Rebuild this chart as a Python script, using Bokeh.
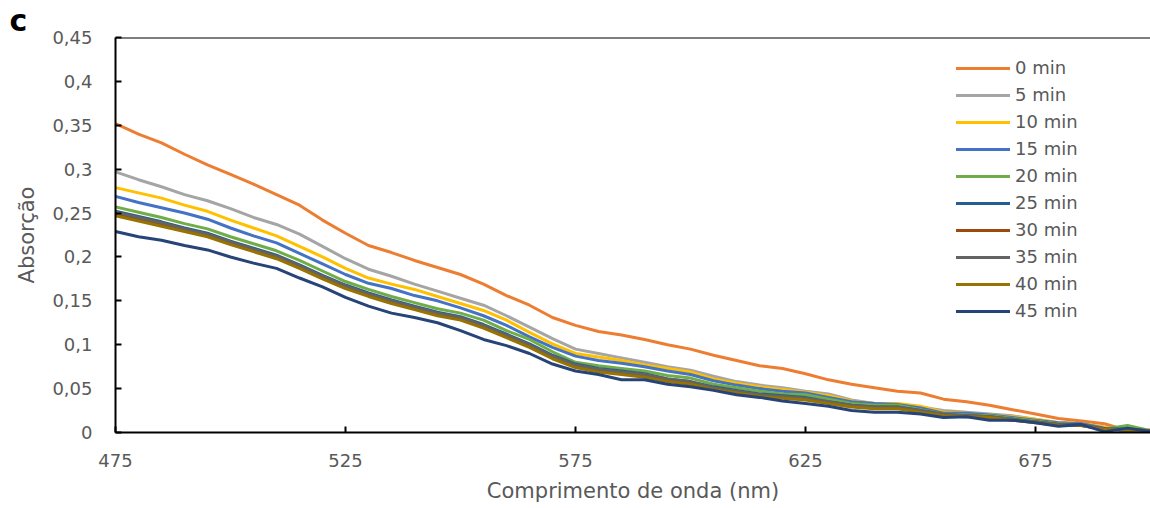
from bokeh.plotting import figure
from bokeh.models import Range1d, FixedTicker, Span, Legend, LegendItem
from bokeh.embed import file_html
from bokeh.resources import INLINE

# ---------------- data ----------------
wavelength = [475, 480, 485, 490, 495, 500, 505, 510, 515, 520,
              525, 530, 535, 540, 545, 550, 555, 560, 565, 570,
              575, 580, 585, 590, 595, 600, 605, 610, 615, 620,
              625, 630, 635, 640, 645, 650, 655, 660, 665, 670,
              675, 680, 685, 690, 695, 700]

abs_0min = [0.352, 0.340, 0.330, 0.317, 0.305, 0.294, 0.283, 0.271, 0.259, 0.242,
            0.227, 0.213, 0.205, 0.196, 0.188, 0.180, 0.169, 0.156, 0.145, 0.131,
            0.122, 0.115, 0.111, 0.106, 0.100, 0.095, 0.088, 0.082, 0.076, 0.073,
            0.067, 0.060, 0.055, 0.051, 0.047, 0.045, 0.038, 0.035, 0.031, 0.026,
            0.021, 0.016, 0.013, 0.010, 0.002, 0.003]
abs_5min = [0.297, 0.288, 0.280, 0.271, 0.264, 0.255, 0.245, 0.237, 0.226, 0.212,
            0.198, 0.186, 0.178, 0.169, 0.161, 0.153, 0.145, 0.133, 0.120, 0.107,
            0.095, 0.090, 0.085, 0.080, 0.075, 0.071, 0.064, 0.058, 0.054, 0.051,
            0.047, 0.044, 0.037, 0.033, 0.032, 0.029, 0.025, 0.023, 0.021, 0.019,
            0.015, 0.011, 0.010, 0.006, 0.003, 0.002]
abs_10min = [0.279, 0.273, 0.267, 0.259, 0.252, 0.242, 0.233, 0.224, 0.212, 0.200,
             0.187, 0.176, 0.169, 0.163, 0.155, 0.147, 0.139, 0.128, 0.114, 0.101,
             0.090, 0.086, 0.082, 0.077, 0.073, 0.069, 0.061, 0.056, 0.052, 0.049,
             0.046, 0.042, 0.036, 0.033, 0.033, 0.030, 0.023, 0.022, 0.020, 0.018,
             0.015, 0.011, 0.010, 0.006, 0.002, 0.002]
abs_15min = [0.269, 0.262, 0.256, 0.250, 0.243, 0.233, 0.224, 0.216, 0.204, 0.192,
             0.180, 0.170, 0.164, 0.156, 0.150, 0.142, 0.133, 0.122, 0.109, 0.097,
             0.087, 0.082, 0.079, 0.075, 0.070, 0.066, 0.059, 0.054, 0.050, 0.047,
             0.045, 0.040, 0.035, 0.033, 0.032, 0.028, 0.022, 0.022, 0.020, 0.017,
             0.014, 0.011, 0.010, 0.005, 0.001, 0.002]
abs_20min = [0.257, 0.251, 0.245, 0.238, 0.232, 0.223, 0.215, 0.207, 0.196, 0.184,
             0.172, 0.163, 0.155, 0.148, 0.141, 0.136, 0.128, 0.116, 0.106, 0.092,
             0.080, 0.076, 0.073, 0.070, 0.065, 0.062, 0.055, 0.051, 0.047, 0.044,
             0.043, 0.038, 0.033, 0.031, 0.031, 0.026, 0.021, 0.020, 0.019, 0.016,
             0.013, 0.010, 0.009, 0.004, 0.008, 0.002]
abs_25min = [0.252, 0.246, 0.240, 0.233, 0.227, 0.218, 0.210, 0.202, 0.191, 0.179,
             0.168, 0.159, 0.151, 0.144, 0.137, 0.132, 0.123, 0.112, 0.101, 0.088,
             0.078, 0.073, 0.070, 0.067, 0.061, 0.058, 0.052, 0.048, 0.044, 0.042,
             0.040, 0.035, 0.031, 0.029, 0.029, 0.025, 0.020, 0.019, 0.018, 0.015,
             0.012, 0.009, 0.009, 0.004, 0.004, 0.002]
abs_30min = [0.249, 0.243, 0.237, 0.231, 0.225, 0.216, 0.208, 0.200, 0.189, 0.177,
             0.166, 0.157, 0.149, 0.142, 0.135, 0.130, 0.121, 0.110, 0.099, 0.086,
             0.076, 0.071, 0.068, 0.065, 0.060, 0.057, 0.050, 0.046, 0.042, 0.040,
             0.038, 0.034, 0.030, 0.028, 0.028, 0.024, 0.020, 0.019, 0.018, 0.014,
             0.012, 0.009, 0.008, 0.004, 0.003, 0.002]
abs_35min = [0.251, 0.245, 0.239, 0.232, 0.226, 0.217, 0.209, 0.201, 0.190, 0.178,
             0.167, 0.158, 0.150, 0.143, 0.136, 0.131, 0.122, 0.111, 0.100, 0.087,
             0.077, 0.072, 0.069, 0.066, 0.061, 0.058, 0.051, 0.047, 0.043, 0.041,
             0.039, 0.035, 0.031, 0.029, 0.029, 0.025, 0.021, 0.019, 0.018, 0.015,
             0.012, 0.009, 0.008, 0.004, 0.003, 0.002]
abs_40min = [0.247, 0.241, 0.235, 0.229, 0.223, 0.214, 0.206, 0.198, 0.187, 0.175,
             0.164, 0.155, 0.147, 0.140, 0.133, 0.128, 0.119, 0.108, 0.097, 0.084,
             0.074, 0.069, 0.066, 0.063, 0.058, 0.055, 0.049, 0.045, 0.041, 0.039,
             0.037, 0.033, 0.029, 0.027, 0.027, 0.023, 0.019, 0.018, 0.017, 0.014,
             0.011, 0.008, 0.008, 0.003, 0.003, 0.001]
abs_45min = [0.229, 0.223, 0.219, 0.213, 0.208, 0.200, 0.193, 0.187, 0.176, 0.166,
             0.154, 0.144, 0.136, 0.131, 0.125, 0.116, 0.106, 0.099, 0.090, 0.078,
             0.070, 0.066, 0.060, 0.060, 0.055, 0.052, 0.048, 0.043, 0.040, 0.036,
             0.033, 0.030, 0.025, 0.023, 0.023, 0.021, 0.017, 0.018, 0.014, 0.014,
             0.011, 0.007, 0.009, 0.001, 0.005, 0.001]

series_names = ["0 min", "5 min", "10 min", "15 min", "20 min",
                "25 min", "30 min", "35 min", "40 min", "45 min"]
series_values = [abs_0min, abs_5min, abs_10min, abs_15min, abs_20min,
                 abs_25min, abs_30min, abs_35min, abs_40min, abs_45min]
series_colors = ["#ED7D31", "#A5A5A5", "#FFC000", "#4472C4", "#70AD47",
                 "#255E91", "#9E480E", "#636363", "#997300", "#264478"]

x_ticks = [475, 525, 575, 625, 675]
y_ticks = [0, 0.05, 0.1, 0.15, 0.2, 0.25, 0.3, 0.35, 0.4, 0.45]
y_tick_labels = ["0", "0,05", "0,1", "0,15", "0,2", "0,25", "0,3", "0,35", "0,4", "0,45"]

FONT = "DejaVu Sans"
TXT = "#595959"

# ---------------- figure ----------------
p = figure(width=1150, height=508, output_backend="svg", toolbar_location=None,
           x_range=Range1d(475, 700), y_range=Range1d(0, 0.45),
           min_border_left=115, min_border_right=0, min_border_top=37, min_border_bottom=76)
p.outline_line_color = None
p.grid.visible = False
p.background_fill_color = "white"
p.border_fill_color = "white"

# panel letter as title
p.title.text = "c"
p.title.align = "left"
p.title.offset = -106
p.title.standoff = 0
p.title.text_font = FONT
p.title.text_font_style = "bold"
p.title.text_font_size = "30px"
p.title.text_color = "black"
p.title.text_line_height = 0.9

renderers = []
for name, vals, col in zip(series_names, series_values, series_colors):
    r = p.line(wavelength, vals, line_color=col, line_width=3, line_join="round", line_cap="round")
    renderers.append((name, r))

# axes
for ax in (p.xaxis[0], p.yaxis[0]):
    ax.axis_line_color = "black"
    ax.axis_line_width = 2
    ax.major_tick_line_color = "black"
    ax.major_tick_line_width = 2
    ax.major_tick_in = 6
    ax.major_tick_out = 0
    ax.minor_tick_line_color = None
    ax.major_label_text_font = FONT
    ax.major_label_text_font_size = "18px"
    ax.major_label_text_color = TXT
    ax.axis_label_text_font = FONT
    ax.axis_label_text_font_size = "21px"
    ax.axis_label_text_font_style = "normal"
    ax.axis_label_text_color = TXT

p.xaxis[0].ticker = FixedTicker(ticks=x_ticks)
p.xaxis[0].axis_label = "Comprimento de onda (nm)"
p.xaxis[0].major_label_standoff = 21
p.xaxis[0].axis_label_standoff = 9

p.yaxis[0].ticker = FixedTicker(ticks=y_ticks)
p.yaxis[0].major_label_overrides = dict(zip(y_ticks, y_tick_labels))
p.yaxis[0].axis_label = "Absorção"
p.yaxis[0].major_label_standoff = 23
p.yaxis[0].axis_label_standoff = 10

# top border
p.add_layout(Span(location=0.45, dimension="width", line_color="black", line_width=2))

# legend
legend = Legend(items=[LegendItem(label=n, renderers=[r]) for n, r in renderers],
                location=(841, 111))
legend.glyph_width = 54
legend.glyph_height = 20
legend.label_height = 20
legend.spacing = 6
legend.padding = 0
legend.margin = 0
legend.label_standoff = 5
legend.border_line_color = None
legend.background_fill_alpha = 0
legend.label_text_font = FONT
legend.label_text_font_size = "18px"
legend.label_text_color = TXT
p.add_layout(legend)

open("out.html", "w").write(file_html(p, INLINE))
